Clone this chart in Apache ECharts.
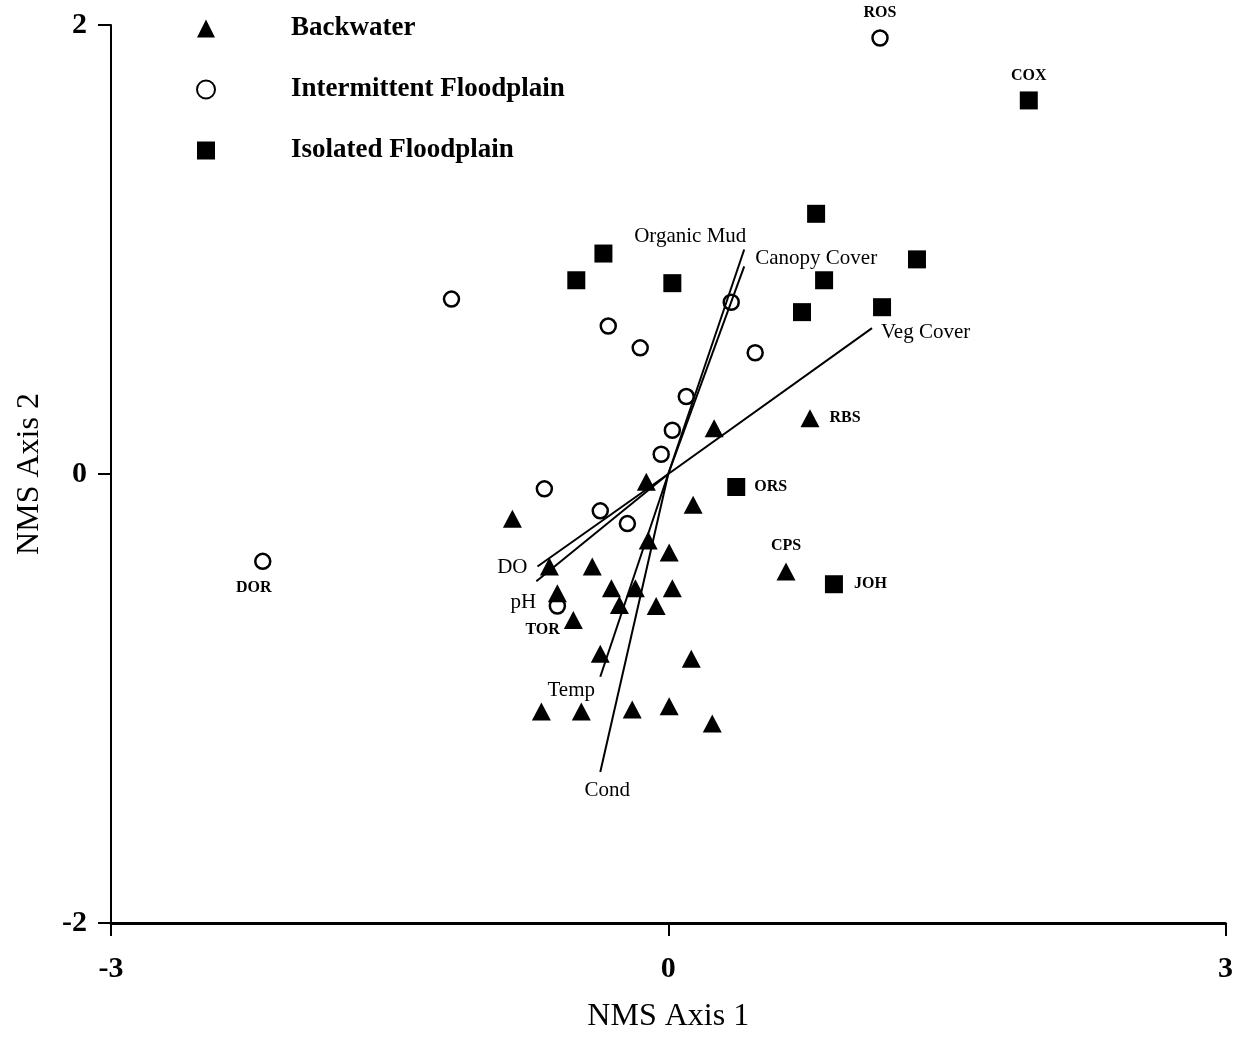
<!DOCTYPE html>
<html><head><meta charset="utf-8">
<script src="https://cdn.jsdelivr.net/npm/echarts@6/dist/echarts.min.js"></script>
<style>html,body{margin:0;padding:0;background:#fff}#c{width:1236px;height:1038px}</style>
</head><body><div id="c"></div>
<script>
// Site scores [axis1, axis2, site label]
const backwater = [
  [0.247,0.204,''],[0.763,0.248,'RBS'],[-0.118,-0.035,''],[-0.839,-0.199,''],
  [0.134,-0.137,''],[-0.108,-0.296,''],[0.005,-0.350,''],[-0.640,-0.412,''],
  [-0.409,-0.412,''],[0.634,-0.434,'CPS'],[-0.597,-0.531,''],[-0.306,-0.509,''],
  [-0.177,-0.509,''],[0.022,-0.509,''],[-0.263,-0.584,''],[-0.065,-0.588,''],
  [-0.511,-0.650,'TOR'],[-0.366,-0.801,''],[0.124,-0.823,''],[-0.683,-1.058,''],
  [-0.468,-1.058,''],[-0.194,-1.049,''],[0.005,-1.035,''],[0.237,-1.111,'']
];
const intermittent = [
  [-1.167,0.779,''],[-0.323,0.659,''],[-0.151,0.562,''],[0.339,0.765,''],
  [0.468,0.540,''],[0.097,0.345,''],[0.022,0.195,''],[-0.038,0.088,''],
  [-0.667,-0.066,''],[-0.366,-0.164,''],[-0.220,-0.221,''],[-0.597,-0.588,''],
  [-2.183,-0.389,'DOR'],[1.140,1.942,'ROS']
];
const isolated = [
  [-0.349,0.982,''],[-0.495,0.863,''],[0.022,0.850,''],[0.796,1.159,''],
  [0.839,0.863,''],[0.720,0.721,''],[1.151,0.743,''],[1.339,0.956,''],
  [1.941,1.664,'COX'],[0.366,-0.058,'ORS'],[0.892,-0.491,'JOH']
];
// Environmental vectors (tips, from origin)
const vectorNames = ['Organic Mud','Canopy Cover','Veg Cover','DO','pH','Temp','Cond'];
const vectorX = [0.409, 0.409, 1.097, -0.704, -0.710, -0.366, -0.366];
const vectorY = [1.000, 0.925, 0.650, -0.412, -0.478, -0.903, -1.327];
const xTicks = [-3, 0, 3];
const yTicks = [-2, 0, 2];
const groupNames = ['Backwater','Intermittent Floodplain','Isolated Floodplain'];

const SERIF = '"Liberation Serif", "Times New Roman", serif';

// label placement styles (not data)
const siteLabelStyle = {
  ROS: {position:'top', distance:8},
  COX: {position:'top', distance:8},
  RBS: {position:'right', distance:10},
  ORS: {position:'right', distance:9},
  CPS: {position:'top', distance:9},
  JOH: {position:'right', distance:11},
  TOR: {position:'left', distance:4, offset:[0,10]},
  DOR: {position:'bottom', distance:10, offset:[-9,0]}
};
const vecLabelStyle = {
  'Organic Mud': {position:'top', offset:[-54,2]},
  'Canopy Cover': {position:'right', offset:[6,-8]},
  'Veg Cover': {position:'right', offset:[4,4]},
  'DO': {position:'left', offset:[-5,1]},
  'pH': {position:'bottom', offset:[-13,6]},
  'Temp': {position:'bottom', offset:[-29,-2]},
  'Cond': {position:'bottom', offset:[7,3]}
};

function siteData(arr){
  return arr.map(function(p){
    const d = {value:[p[0],p[1]], name:p[2]};
    if (p[2]) {
      d.label = Object.assign({show:true, formatter:p[2], color:'#000',
        fontFamily:SERIF, fontWeight:'bold', fontSize:16}, siteLabelStyle[p[2]]);
    }
    return d;
  });
}

const series = [
  {name:groupNames[0], type:'scatter', symbol:'triangle', symbolSize:[19,18],
   itemStyle:{color:'#000', opacity:1}, data:siteData(backwater), z:3},
  {name:groupNames[1], type:'scatter', symbol:'circle', symbolSize:15,
   itemStyle:{color:'rgba(255,255,255,0)', borderColor:'#000', borderWidth:2.5, opacity:1},
   data:siteData(intermittent), z:3},
  {name:groupNames[2], type:'scatter', symbol:'rect', symbolSize:18,
   itemStyle:{color:'#000', opacity:1}, data:siteData(isolated), z:3}
];
vectorNames.forEach(function(n,i){
  series.push({
    name:n, type:'line', symbol:'circle', symbolSize:0.01, showSymbol:true,
    silent:true, animation:false, z:4,
    lineStyle:{color:'#000', width:2},
    itemStyle:{color:'#000'},
    data:[
      {value:[0,0]},
      {value:[vectorX[i], vectorY[i]],
       label:Object.assign({show:true, formatter:n, color:'#000',
         fontFamily:SERIF, fontSize:21, distance:5}, vecLabelStyle[n])}
    ]
  });
});

const chart = echarts.init(document.getElementById('c'), null, {renderer:'canvas'});
chart.setOption({
  animation:false,
  backgroundColor:'#fff',
  grid:{left:111, right:9, top:25, bottom:106, containLabel:false},
  legend:{
    data:groupNames, orient:'vertical', left:196, top:15, padding:0,
    itemWidth:18, itemHeight:18, itemGap:34, selectedMode:false,
    textStyle:{fontFamily:SERIF, fontWeight:'bold', fontSize:27, lineHeight:26,
      color:'#000', padding:[0,0,0,71]}
  },
  xAxis:{
    type:'value', min:xTicks[0], max:xTicks[xTicks.length-1], interval:3,
    splitLine:{show:false},
    axisLine:{show:true, onZero:false, lineStyle:{color:'#000', width:3}},
    axisTick:{show:true, length:13, lineStyle:{color:'#000', width:2}},
    axisLabel:{fontFamily:SERIF, fontWeight:'bold', fontSize:30, color:'#000', margin:31},
    name:'NMS Axis 1', nameLocation:'middle', nameGap:78,
    nameTextStyle:{fontFamily:SERIF, fontSize:32, color:'#000'}
  },
  yAxis:{
    type:'value', min:yTicks[0], max:yTicks[yTicks.length-1], interval:2,
    splitLine:{show:false},
    axisLine:{show:true, onZero:false, lineStyle:{color:'#000', width:2}},
    axisTick:{show:true, length:13, lineStyle:{color:'#000', width:2}},
    axisLabel:{fontFamily:SERIF, fontWeight:'bold', fontSize:30, color:'#000', margin:24},
    name:'NMS Axis 2', nameLocation:'middle', nameGap:65,
    nameTextStyle:{fontFamily:SERIF, fontSize:32, color:'#000'}
  },
  series:series
});
</script></body></html>
